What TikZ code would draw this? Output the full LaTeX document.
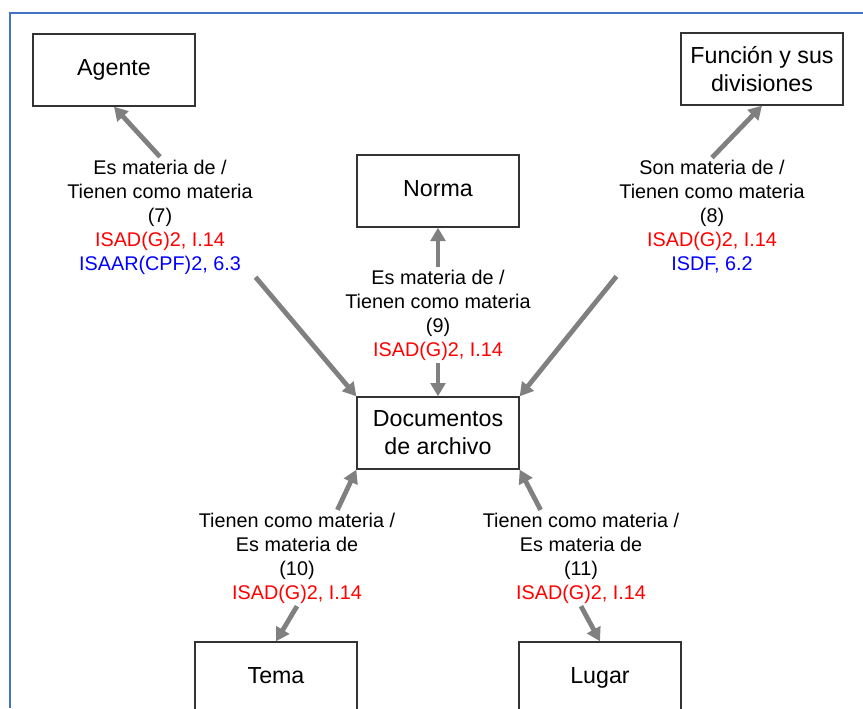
\documentclass[tikz,border=0pt]{standalone}
\usepackage{fontspec}
\setmainfont{Liberation Sans}
\usetikzlibrary{arrows.meta}
\definecolor{isadred}{RGB}{255,0,0}
\definecolor{isaarblue}{RGB}{0,0,255}
\definecolor{arrowgray}{RGB}{128,128,128}
\definecolor{frameblue}{RGB}{68,114,196}

\begin{document}
\begin{tikzpicture}[x=0.75pt, y=-0.75pt,
  box/.style={draw=black!80, line width=1pt, rectangle, minimum width=121.5pt, minimum height=54pt, align=center, font=\fontsize{17.4}{21}\selectfont},
  lbl/.style={align=center, inner sep=2pt, font=\fontsize{14.85}{18}\selectfont},
  arr/.style={-{Triangle[length=10pt,width=11pt]}, draw=arrowgray, line width=3.6pt}]
  \useasboundingbox (0,0) rectangle (863,708);
  % Frame
  \draw[frameblue, line width=1.8pt] (10,708) -- (10,13) -- (863,13);
  % Entities
  \node[box] (agente) at (114,70) {\strut Agente};
  \node[box] (funcion) at (762,69) {Función y sus\\divisiones};
  \node[box] (norma) at (438,191) {\strut Norma};
  \node[box] (docs) at (438,433) {Documentos\\de archivo};
  \node[box] (tema) at (276,678) {\strut Tema};
  \node[box] (lugar) at (600,678) {\strut Lugar};
  % Relations
  \node[lbl] (r7) at (160,217) {Es materia de /\\Tienen como materia\\(7)\\\textcolor{isadred}{ISAD(G)2, I.14}\\\textcolor{isaarblue}{ISAAR(CPF)2, 6.3}};
  \node[lbl] (r8) at (712,217) {Son materia de /\\Tienen como materia\\(8)\\\textcolor{isadred}{ISAD(G)2, I.14}\\\textcolor{isaarblue}{ISDF, 6.2}};
  \node[lbl] (r9) at (438,315) {Es materia de /\\Tienen como materia\\(9)\\\textcolor{isadred}{ISAD(G)2, I.14}};
  \node[lbl] (r10) at (297,558) {Tienen como materia /\\Es materia de\\(10)\\\textcolor{isadred}{ISAD(G)2, I.14}};
  \node[lbl] (r11) at (581,558) {Tienen como materia /\\Es materia de\\(11)\\\textcolor{isadred}{ISAD(G)2, I.14}};

  \draw[arr] (r7.north) -- (agente.south);
  \draw[arr] (r7.south east) -- (docs.north west);
  \draw[arr] (r8.north) -- (funcion.south);
  \draw[arr] (r8.south west) -- (docs.north east);
  \draw[arr] (r9.north) -- (norma.south);
  \draw[arr] (r9.south) -- (docs.north);
  \draw[arr] (r10.50) -- (docs.south west);
  \draw[arr] (r10.south) -- (tema.north);
  \draw[arr] (r11.130) -- (docs.south east);
  \draw[arr] (r11.south) -- (lugar.north);
\end{tikzpicture}
\end{document}
